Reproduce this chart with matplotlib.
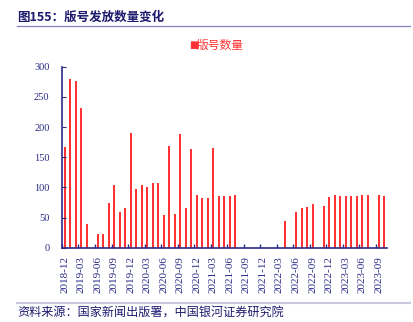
import matplotlib.pyplot as plt
import numpy as np
from matplotlib.lines import Line2D

plt.rcParams['font.family'] = ['Liberation Serif', 'Noto Sans CJK SC']

# monthly data 2018-12 .. 2023-10
months = []
y, m = 2018, 12
for _ in range(59):
    months.append(f"{y}-{m:02d}")
    m += 1
    if m > 12:
        m = 1
        y += 1

counts = [167, 279, 277, 232, 39, 0, 22, 22, 74, 104, 59, 65, 190,
          97, 104, 101, 108, 108, 54, 169, 56, 188, 66, 163, 88,
          83, 83, 165, 86, 86, 86, 87, 0, 0, 0, 0, 0, 0, 0,
          0, 44, 0, 59, 66, 68, 72, 0, 69, 84,
          87, 86, 85, 85, 85, 88, 87, 0, 88, 86]

label_idx = list(range(0, 59, 3))
tick_labels = [months[i] for i in label_idx]

navy = '#2B2B86'
red = '#FF3333'

fig = plt.figure(figsize=(4.13, 3.22), dpi=100)
ax = fig.add_axes([0.150, 0.2307, 0.787, 0.5622])

x = np.arange(len(counts))
ax.bar(x, counts, width=0.36, color=red, linewidth=0)

ax.set_xlim(-0.5, len(counts) - 0.5)
ax.set_ylim(0, 300)
ax.set_yticks([0, 50, 100, 150, 200, 250, 300])
ax.tick_params(axis='y', direction='in', length=3, color=navy, labelcolor=navy,
               labelsize=7.5, pad=9)

ax.set_xticks(label_idx)
ax.set_xticklabels(tick_labels, rotation=90)
ax.tick_params(axis='x', length=0, labelcolor=navy, labelsize=8, pad=6)
ax.set_xticks([i - 0.5 for i in label_idx], minor=True)
ax.tick_params(axis='x', which='minor', direction='in', length=3, color=navy, width=1)

for s in ['top', 'right']:
    ax.spines[s].set_visible(False)
for s in ['left', 'bottom']:
    ax.spines[s].set_color(navy)
    ax.spines[s].set_linewidth(1.2)

# title and rules
fig.text(17 / 413, 1 - 17 / 322, '图155：版号发放数量变化', fontsize=9, fontweight='bold',
         color='#1E1A6E', va='center', ha='left', family=['Noto Sans CJK SC'])
fig.add_artist(Line2D([17 / 413, 410 / 413], [1 - 26 / 322] * 2, color='#8480C8', lw=0.9))
fig.add_artist(Line2D([17 / 413, 410 / 413], [1 - 303 / 322] * 2, color='#C8C8DE', lw=1.5))
fig.text(17 / 413, 1 - 313 / 322, '资料来源：国家新闻出版署，中国银河证券研究院', fontsize=8.7,
         color='#1E1A6E', va='center', ha='left', style='italic',
         family=['Noto Sans CJK SC'])

# legend
fig.text(189 / 413, 1 - 45 / 322, '■', fontsize=7, color=red, va='center', ha='left',
         family=['DejaVu Sans'])
fig.text(197 / 413, 1 - 45 / 322, '版号数量', fontsize=8.5, color=red, va='center', ha='left',
         family=['Noto Sans CJK SC'])

fig.savefig('out.png', dpi=100)
